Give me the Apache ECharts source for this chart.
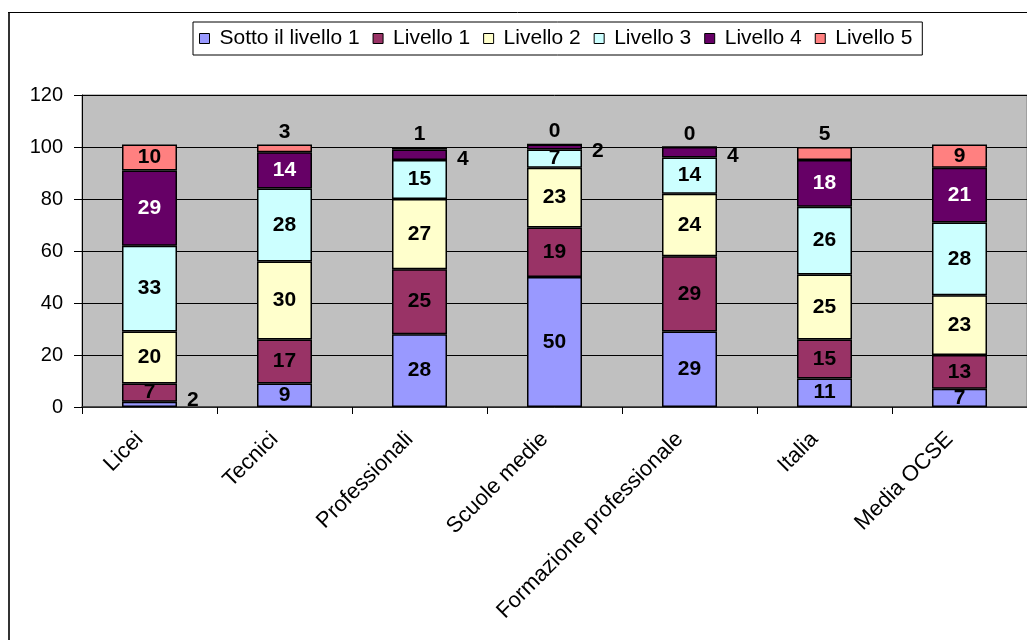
<!DOCTYPE html>
<html>
<head>
<meta charset="utf-8">
<script src="https://cdn.jsdelivr.net/npm/echarts@6/dist/echarts.min.js"></script>
<style>
html,body{margin:0;padding:0;background:#fff;}
#chart{width:1027px;height:640px;}
</style>
</head>
<body>
<div id="chart"></div>
<script>
const categories = ['Licei', 'Tecnici', 'Professionali', 'Scuole medie', 'Formazione professionale', 'Italia', 'Media OCSE'];
const seriesNames = ['Sotto il livello 1', 'Livello 1', 'Livello 2', 'Livello 3', 'Livello 4', 'Livello 5'];
const sotto = [2, 9, 28, 50, 29, 11, 7];
const livello1 = [7, 17, 25, 19, 29, 15, 13];
const livello2 = [20, 30, 27, 23, 24, 25, 23];
const livello3 = [33, 28, 15, 7, 14, 26, 28];
const livello4 = [29, 14, 4, 2, 4, 18, 21];
const livello5 = [10, 3, 1, 0, 0, 5, 9];
const yTicks = [0, 20, 40, 60, 80, 100, 120];

const colors = ['#9999FF', '#993366', '#FFFFCC', '#CCFFFF', '#660066', '#FF8080'];
const allValues = [sotto, livello1, livello2, livello3, livello4, livello5];
const FONT = "'Liberation Sans', Arial, sans-serif";

function labelFor(si, v) {
  const base = { show: true, fontFamily: FONT, fontSize: 21, fontWeight: 'bold', color: si === 4 ? '#fff' : '#000', position: 'inside' };
  if (si === 5 && v <= 5) return Object.assign(base, { position: 'top', distance: 2, color: '#000' });
  if (si === 4 && v <= 4) return Object.assign(base, { position: 'right', distance: 10, offset: [0, 4], color: '#000' });
  if (si === 0 && v <= 2) return Object.assign(base, { position: 'right', distance: 10, offset: [0, -4], color: '#000' });
  return base;
}

const series = seriesNames.map((name, si) => ({
  name: name,
  type: 'bar',
  stack: 'total',
  barWidth: 55,
  itemStyle: { color: colors[si], borderColor: '#000', borderWidth: 1.5 },
  data: allValues[si].map(v => ({ value: v, label: labelFor(si, v) })),
  emphasis: { disabled: true },
  animation: false
}));

const legendData = seriesNames.map((n, i) => i === 0
  ? { name: n, textStyle: { padding: [0, 6, 0, 5] } }
  : { name: n });

const chart = echarts.init(document.getElementById('chart'), null, { renderer: 'canvas' });
chart.setOption({
  animation: false,
  backgroundColor: '#fff',
  textStyle: { fontFamily: FONT },
  legend: {
    data: legendData,
    left: 193,
    top: 22,
    orient: 'horizontal',
    padding: [6, 10, 6, 6],
    itemGap: 13,
    itemWidth: 10,
    itemHeight: 10,
    icon: 'rect',
    backgroundColor: '#fff',
    borderColor: '#000',
    borderWidth: 1,
    borderRadius: 0,
    itemStyle: { borderColor: '#000', borderWidth: 1 },
    textStyle: { fontFamily: FONT, fontSize: 21, color: '#000', padding: [0, 0, 0, 5] },
    selectedMode: false
  },
  grid: {
    left: 82, top: 95, width: 947, height: 312,
    show: true, backgroundColor: '#C0C0C0', borderColor: '#808080', borderWidth: 1
  },
  xAxis: {
    type: 'category',
    data: categories,
    boundaryGap: true,
    axisLine: { show: true, lineStyle: { color: '#333', width: 1.5 } },
    axisTick: { show: true, length: 7, lineStyle: { color: '#000' } },
    axisLabel: { rotate: 45, margin: 19, fontFamily: FONT, fontSize: 22, color: '#000', interval: 0, padding: [0, 14, 0, 0] },
    splitLine: { show: false }
  },
  yAxis: {
    type: 'value',
    min: yTicks[0],
    max: yTicks[yTicks.length - 1],
    interval: 20,
    axisLine: { show: true, lineStyle: { color: '#000', width: 1 } },
    axisTick: { show: true, length: 8, lineStyle: { color: '#000' } },
    axisLabel: { margin: 19, fontFamily: FONT, fontSize: 20, color: '#000' },
    splitLine: { show: true, lineStyle: { color: '#000', width: 1 } }
  },
  graphic: [
    { type: 'line', shape: { x1: 9, y1: 12, x2: 9, y2: 640 }, style: { stroke: '#333', lineWidth: 2 }, silent: true },
    { type: 'line', shape: { x1: 8, y1: 12.5, x2: 1027, y2: 12.5 }, style: { stroke: '#000', lineWidth: 1 }, silent: true }
  ],
  series: series
});
</script>
</body>
</html>
